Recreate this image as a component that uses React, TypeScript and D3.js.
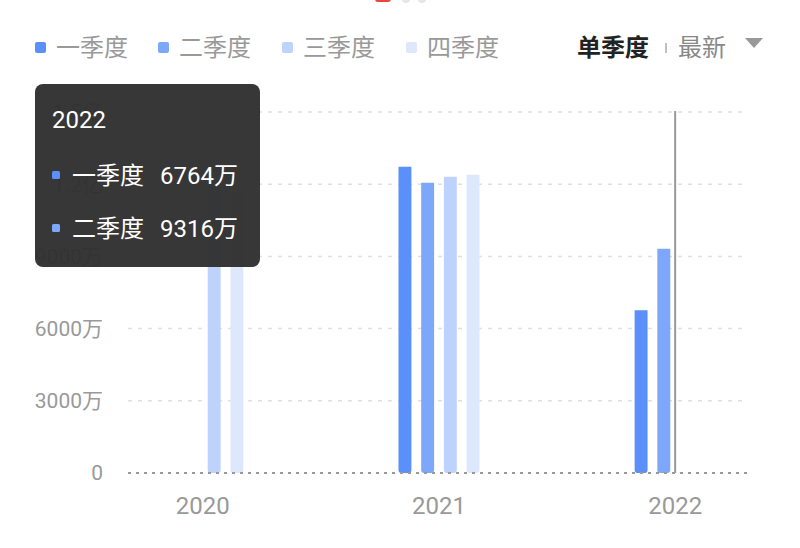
import React from "react";
import * as d3 from "d3";

const years = ["2020", "2021", "2022"];
const quarters = ["一季度", "二季度", "三季度", "四季度"];
const quarterColors = ["#5b8ff9", "#7da8fa", "#bed3fc", "#dee8fd"];

// 单位：万
const q1Values = [null, 12726, 6764];
const q2Values = [null, 12061, 9316];
const q3Values = [11900, 12310, null];
const q4Values = [11700, 12393, null];
const seriesValues = [q1Values, q2Values, q3Values, q4Values];

const yTicks = [0, 3000, 6000, 9000, 12000, 15000];
const yTickLabels = ["0", "3000万", "6000万", "9000万", "1.2亿", "1.5亿"];

const tooltipYear = "2022";
const tooltipRows = [
  { name: "一季度", value: "6764万", color: "#5b8ff9" },
  { name: "二季度", value: "9316万", color: "#7da8fa" },
];

const W = 800;
const H = 548;
const FONT = "Roboto, 'Noto Sans CJK SC', sans-serif";

const plot = { left: 128, right: 747, top: 112, bottom: 473 };

function barPath(x: number, y: number, w: number, h: number, r: number) {
  const rr = Math.min(r, w / 2, h);
  return `M${x},${y}H${x + w}V${y + h - rr}Q${x + w},${y + h} ${x + w - rr},${y + h}H${x + rr}Q${x},${y + h} ${x},${y + h - rr}Z`;
}

export default function App() {
  const x = d3.scalePoint<string>().domain(years).range([132, 746]).padding(0.3);
  const xq = d3
    .scaleBand<string>()
    .domain(quarters)
    .range([-45.4, 45.4])
    .paddingInner(0.43)
    .paddingOuter(0.215);
  const y = d3.scaleLinear().domain([0, 15000]).range([plot.bottom, plot.top]);

  const legendX = [35, 158, 282, 406];

  return (
    <div style={{ position: "fixed", left: 0, top: 0 }}>
      <svg width={W} height={H} style={{ fontFamily: FONT, background: "#fff", display: "block" }}>
        {/* page indicator */}
        <rect x={375} y={-4} width={16} height={6} rx={3} fill="#e8463c" />
        <circle cx={406} cy={-1} r={4} fill="#e6e6e6" />
        <circle cx={422} cy={-1} r={4} fill="#e6e6e6" />

        {/* legend */}
        {quarters.map((q, i) => (
          <g key={q}>
            <rect x={legendX[i]} y={42} width={11} height={11} rx={2} fill={quarterColors[i]} />
            <text x={legendX[i] + 21} y={48} dy="0.35em" fontSize={24} fill="#999">
              {q}
            </text>
          </g>
        ))}
        <text x={577} y={48} dy="0.35em" fontSize={24} fontWeight="bold" fill="#222">
          单季度
        </text>
        <line x1={666} x2={666} y1={43} y2={53} stroke="#aaa" strokeWidth={1.5} />
        <text x={678} y={48} dy="0.35em" fontSize={24} fill="#888">
          最新
        </text>
        <path d="M745,38L763,38L754,48Z" fill="#999" />

        {/* grid */}
        {yTicks.map((t, i) =>
          i === 0 ? null : (
            <line
              key={t}
              x1={plot.left}
              x2={plot.right}
              y1={y(t)}
              y2={y(t)}
              stroke="#e0e0e0"
              strokeWidth={1.5}
              strokeDasharray="4 6"
            />
          )
        )}
        {yTicks.map((t, i) => (
          <text key={t} x={103} y={y(t)} dy="0.35em" fontSize={21} fill="#999" textAnchor="end">
            {yTickLabels[i]}
          </text>
        ))}

        {/* bars */}
        {years.map((yr, yi) =>
          quarters.map((q, qi) => {
            const v = seriesValues[qi][yi];
            if (v == null) return null;
            const bx = (x(yr) ?? 0) + (xq(q) ?? 0);
            const by = y(v);
            return (
              <path
                key={yr + q}
                d={barPath(bx, by, xq.bandwidth(), plot.bottom - by, 3)}
                fill={quarterColors[qi]}
              />
            );
          })
        )}

        {/* baseline */}
        <line
          x1={plot.left}
          x2={plot.right}
          y1={plot.bottom}
          y2={plot.bottom}
          stroke="#999"
          strokeWidth={2}
          strokeDasharray="3 5"
        />

        {/* x labels */}
        {years.map((yr) => (
          <text key={yr} x={x(yr)} y={506} dy="0.35em" fontSize={24} fill="#999" textAnchor="middle">
            {yr}
          </text>
        ))}

        {/* crosshair */}
        <line
          x1={x(tooltipYear)}
          x2={x(tooltipYear)}
          y1={plot.top - 1}
          y2={plot.bottom}
          stroke="#999"
          strokeWidth={2}
        />

        {/* tooltip */}
        <rect x={35} y={84} width={225} height={183} rx={8} fill="#2f2f2f" fillOpacity={0.96} />
        <text x={52} y={120} dy="0.35em" fontSize={24} fill="#fff">
          {tooltipYear}
        </text>
        {tooltipRows.map((r, i) => (
          <g key={r.name}>
            <rect x={52} y={171 + i * 53} width={8} height={8} rx={1.5} fill={r.color} />
            <text x={72} y={176 + i * 53} dy="0.35em" fontSize={24} fill="#fff">
              {r.name}
            </text>
            <text x={160} y={176 + i * 53} dy="0.35em" fontSize={24} fill="#fff">
              {r.value}
            </text>
          </g>
        ))}
      </svg>
    </div>
  );
}
